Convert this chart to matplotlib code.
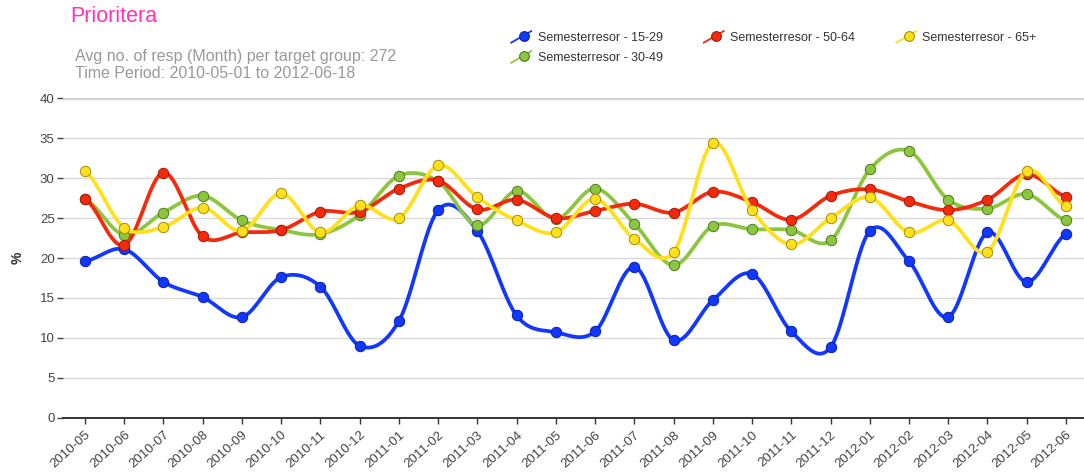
import numpy as np
import matplotlib
matplotlib.use('Agg')
import matplotlib.pyplot as plt
from matplotlib.lines import Line2D
from matplotlib.legend_handler import HandlerBase

months = ['2010-05', '2010-06', '2010-07', '2010-08', '2010-09', '2010-10', '2010-11', '2010-12',
          '2011-01', '2011-02', '2011-03', '2011-04', '2011-05', '2011-06', '2011-07', '2011-08',
          '2011-09', '2011-10', '2011-11', '2011-12', '2012-01', '2012-02', '2012-03', '2012-04',
          '2012-05', '2012-06']

age_15_29 = [19.6, 21.1, 17.0, 15.1, 12.6, 17.6, 16.4, 9.0, 12.1, 26.0, 23.4, 12.8, 10.7,
             10.8, 18.9, 9.7, 14.7, 18.0, 10.8, 8.8, 23.4, 19.6, 12.6, 23.2, 17.0, 23.0]
age_30_49 = [27.4, 22.9, 25.7, 27.8, 24.7, 23.5, 23.0, 25.4, 30.3, 29.6, 24.1, 28.4, 24.9,
             28.7, 24.3, 19.1, 24.0, 23.6, 23.5, 22.2, 31.1, 33.4, 27.3, 26.2, 28.0, 24.7]
age_50_64 = [27.4, 21.6, 30.7, 22.7, 23.2, 23.5, 25.8, 25.8, 28.7, 29.7, 26.1, 27.3, 25.0,
             25.9, 26.8, 25.7, 28.3, 27.0, 24.8, 27.8, 28.6, 27.1, 26.0, 27.3, 30.5, 27.7]
age_65 = [30.9, 23.8, 23.9, 26.3, 23.4, 28.1, 23.2, 26.6, 25.0, 31.6, 27.6, 24.7, 23.2,
          27.4, 22.4, 20.7, 34.4, 26.0, 21.7, 25.0, 27.6, 23.2, 24.7, 20.8, 30.9, 26.5]

# drawn bottom to top
series = [
    ('Semesterresor - 15-29', age_15_29, '#1238ff', '#0a1f9c'),
    ('Semesterresor - 30-49', age_30_49, '#8cc63e', '#4f7a1c'),
    ('Semesterresor - 50-64', age_50_64, '#f52a0c', '#9c1a08'),
    ('Semesterresor - 65+', age_65, '#ffe01a', '#a08c10'),
]


def smooth(y, steps=20):
    # catmull-rom curve through the points
    p = np.concatenate([[y[0]], y, [y[-1]]])
    xs, ys = [], []
    t = np.linspace(0, 1, steps, endpoint=False)
    for i in range(len(y) - 1):
        p0, p1, p2, p3 = p[i], p[i + 1], p[i + 2], p[i + 3]
        seg = 0.5 * (2 * p1 + (-p0 + p2) * t + (2 * p0 - 5 * p1 + 4 * p2 - p3) * t ** 2
                     + (-p0 + 3 * p1 - 3 * p2 + p3) * t ** 3)
        xs.append(i + t)
        ys.append(seg)
    xs.append([len(y) - 1])
    ys.append([y[-1]])
    return np.concatenate(xs), np.concatenate(ys)


class DiagHandler(HandlerBase):
    def create_artists(self, legend, orig_handle, xdescent, ydescent, width, height, fontsize, trans):
        x0, y0 = -xdescent, -ydescent
        ln = Line2D([x0, x0 + width], [y0 - 1, y0 + height + 1],
                    color=orig_handle.get_color(), lw=1.3, transform=trans)
        mk = Line2D([x0 + 0.62 * width], [y0 + 0.6 * height], marker='o', markersize=7,
                    markerfacecolor=orig_handle.get_markerfacecolor(),
                    markeredgecolor=orig_handle.get_markeredgecolor(),
                    markeredgewidth=0.8, linestyle='none', transform=trans)
        return [ln, mk]


plt.rcParams['font.family'] = ['Liberation Sans', 'DejaVu Sans']

fig = plt.figure(figsize=(10.84, 4.76), dpi=100)
ax = fig.add_axes([63 / 1084, (476 - 417.6) / 476, (1084 - 63) / 1084, 319.2 / 476])

x = np.arange(len(months))
handles = {}
for name, vals, col, edge in series:
    sx, sy = smooth(np.array(vals))
    ax.plot(sx, sy, color=col, lw=2.7, solid_capstyle='round', zorder=3)
    ax.plot(x, vals, linestyle='none', marker='o', markersize=7.5,
            markerfacecolor=col, markeredgecolor=edge, markeredgewidth=0.7, zorder=3)
    handles[name] = Line2D([], [], color=col, marker='o', markerfacecolor=col, markeredgecolor=edge)

ax.set_xlim(-0.56, 25.46)
ax.set_ylim(0, 40)
ax.set_yticks(range(0, 41, 5))
ax.set_xticks(x)
ax.set_xticklabels(months, rotation=42, ha='right', rotation_mode='anchor')

ax.yaxis.grid(True, color='#d9d9d9', lw=1)
ax.set_axisbelow(True)
ax.axhline(40, color='#d4d4d4', lw=2.4, zorder=1)
for s in ['top', 'right', 'left']:
    ax.spines[s].set_visible(False)
ax.spines['bottom'].set_color('#333333')
ax.spines['bottom'].set_linewidth(1.4)
ax.tick_params(axis='y', length=4, width=1, color='#444444', labelcolor='#444444', labelsize=9.5, pad=2)
ax.tick_params(axis='x', length=4, width=1, color='#333333', labelcolor='#444444', labelsize=9.5, pad=4)
ax.set_ylabel('%', fontsize=10, fontweight='bold', color='#333333', labelpad=11)

fig.text(70 / 1084, 1 - 17 / 476, 'Prioritera', color='#ff33bb', fontsize=15.5, va='center')
fig.text(75 / 1084, 1 - 57 / 476, 'Avg no. of resp (Month) per target group: 272', color='#999999',
         fontsize=11.5, va='center')
fig.text(75 / 1084, 1 - 74 / 476, 'Time Period: 2010-05-01 to 2012-06-18', color='#999999',
         fontsize=11.5, va='center')

order = ['Semesterresor - 15-29', 'Semesterresor - 30-49', 'Semesterresor - 50-64', 'Semesterresor - 65+']
leg = fig.legend([handles[k] for k in order], order, handler_map={Line2D: DiagHandler()},
                 ncol=3, loc='upper left', bbox_to_anchor=(505 / 1084, 1 - 26 / 476),
                 frameon=False, fontsize=9, handlelength=1.6, handletextpad=0.5,
                 columnspacing=3.3, labelspacing=0.65, borderpad=0)
for t in leg.get_texts():
    t.set_color('#333333')

fig.savefig('out.png', dpi=100)
